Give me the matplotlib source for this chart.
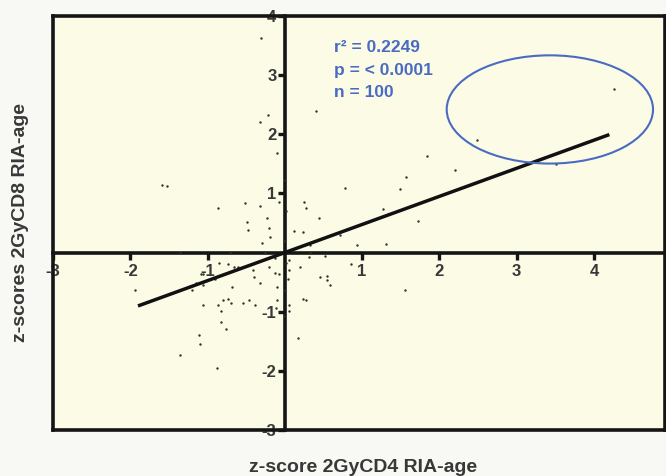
import matplotlib
matplotlib.use("Agg")
import matplotlib.pyplot as plt
from matplotlib.patches import Ellipse
import numpy as np

plt.rcParams['font.family'] = ['Liberation Sans', 'DejaVu Sans']

# z-scores, CD4 (x) vs CD8 (y)
cd4_z = [-0.31, -0.22, -0.32, -0.10, -1.59, -1.52, -0.87, -0.52, -0.32, -0.08,
         -0.49, -0.48, -0.23, -0.21, -0.19, -0.30, 0.40, 4.26, 2.49, 1.84,
         2.20, 1.57, 1.49, 0.78, 0.25, 0.27, 0.44, 1.27, 1.72, 3.51,
         0.12, 0.23, 0.93, 1.31, 0.06, 0.31, 0.52, 0.85, 0.19, 0.05,
         0.45, 0.54, 0.54, 0.58, 1.55, 0.23, 0.27, 0.06, 0.06, 0.17,
         0.04, -1.94, -1.20, -1.15, -1.09, -1.06, -1.06, -0.85, -0.73, -0.66,
         -0.60, -0.41, -0.40, -0.21, -0.13, -0.08, -0.69, -1.06, -0.87, -0.80,
         -0.74, -0.70, -0.83, -0.54, -0.47, -0.38, -0.10, -0.10, -0.12, -0.83,
         -0.76, -1.11, -1.10, -1.36, -0.88, 0.00, 0.01, -0.01, 0.01, 0.00,
         -0.01, -0.71, 0.32, -1.36, -0.26, -0.13, -0.91, -0.32, 0.71, 0.32]
cd8_z = [3.62, 2.32, 2.20, 1.68, 1.15, 1.12, 0.76, 0.83, 0.78, 0.86,
         0.52, 0.39, 0.58, 0.41, 0.27, 0.17, 2.39, 2.77, 1.90, 1.64,
         1.40, 1.27, 1.07, 1.10, 0.86, 0.76, 0.59, 0.73, 0.54, 1.49,
         0.37, 0.34, 0.12, 0.14, -0.12, -0.07, -0.05, -0.19, -0.24, -0.30,
         -0.41, -0.39, -0.47, -0.54, -0.64, -0.78, -0.81, -0.88, -0.98, -1.44,
         -0.44, -0.63, -0.64, -0.51, -0.37, -0.36, -0.54, -0.17, -0.19, -0.25,
         -0.24, -0.29, -0.41, -0.25, -0.34, -0.36, -0.58, -0.88, -0.88, -0.81,
         -0.78, -0.86, -0.98, -0.86, -0.80, -0.88, -0.59, -0.80, -0.93, -1.18,
         -1.30, -1.40, -1.54, -1.73, -1.95, 1.22, 0.71, 0.20, -0.17, -0.64,
         -1.07, 0.00, 0.00, 0.00, 0.00, -0.10, -0.44, -0.52, 0.29, 0.12]

# linear fit shown on the chart
fit_slope = 0.475
fit_intercept = 0.0
fit_range = [-1.9, 4.2]

stats_lines = ["r\u00b2 = 0.2249", "p = < 0.0001", "n = 100"]
x_ticks = [-3, -2, -1, 1, 2, 3, 4]
y_ticks = [-3, -2, -1, 1, 2, 3, 4]

blue = '#4a6cc0'
label_grey = '#383838'

fig = plt.figure(figsize=(6.66, 4.76), dpi=100, facecolor='#f8f8f5')
ax = fig.add_axes([53 / 666, 46 / 476, 612 / 666, 414 / 476])
ax.set_facecolor('#fbfbe6')
ax.set_xlim(-3.0, 4.92)
ax.set_ylim(-3.0, 4.0)

# axes cross through the origin, outer frame stays on the box
ax.spines['left'].set_position(('data', 0))
ax.spines['bottom'].set_position(('data', 0))
for s in ax.spines.values():
    s.set_linewidth(2.6)
    s.set_color('#151515')
ax.plot([-3, -3], [-3, 4], color='#151515', lw=2.6, clip_on=False, zorder=5)
ax.plot([-3, 4.92], [-3, -3], color='#151515', lw=2.6, clip_on=False, zorder=5)

ax.set_xticks(x_ticks)
ax.set_yticks(y_ticks)
ax.set_xticklabels([str(t) for t in x_ticks])
ax.set_yticklabels([str(t) for t in y_ticks])
ax.tick_params(axis='both', direction='out', length=5, width=2.4, color='#151515',
               labelsize=12, labelcolor=label_grey, pad=1)
ax.tick_params(axis='x', pad=3)
for lab in ax.get_xticklabels() + ax.get_yticklabels():
    lab.set_fontweight('bold')

ax.scatter(cd4_z, cd8_z, s=3, color='#303030', linewidths=0, zorder=3)

fx = np.array(fit_range)
ax.plot(fx, fit_slope * fx + fit_intercept, color='#111111', lw=2.5,
        solid_capstyle='butt', zorder=4)

ax.add_patch(Ellipse((3.43, 2.42), 2.67, 1.83, fill=False, edgecolor=blue, lw=1.5, zorder=4))

for i, line in enumerate(stats_lines):
    ax.text(0.63, 3.46 - i * 0.38, line, color=blue, fontsize=12.5,
            fontweight='bold', va='center', ha='left')

fig.text(21 / 666, 1 - 222 / 476, 'z-scores 2GyCD8 RIA-age', rotation=90,
         ha='center', va='center', fontsize=14, fontweight='bold', color=label_grey)
fig.text(363 / 666, 1 - 467 / 476, 'z-score 2GyCD4 RIA-age',
         ha='center', va='center', fontsize=14, fontweight='bold', color=label_grey)

fig.savefig('out.png', dpi=100, facecolor=fig.get_facecolor())
